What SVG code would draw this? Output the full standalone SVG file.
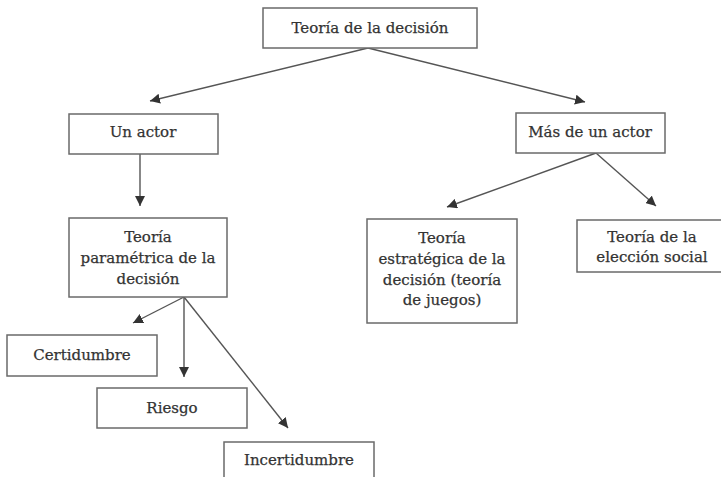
<svg xmlns="http://www.w3.org/2000/svg" width="721" height="477" viewBox="0 0 721 477">
<style>
.box{fill:#fff;stroke:#6a6a6a;stroke-width:1.5}
.t{font-family:"DejaVu Serif","Liberation Serif",serif;font-size:15px;fill:#333;stroke:#333;stroke-width:0.25;text-anchor:middle}
.c{fill:none;stroke:#555;stroke-width:1.4}
</style>
<defs>
<marker id="ah" markerUnits="userSpaceOnUse" markerWidth="12" markerHeight="10" refX="10" refY="5" orient="auto">
<path d="M0,0 L10,5 L0,10 Z" fill="#333"/>
</marker>
</defs>
<rect width="721" height="477" fill="#fff"/>
<g id="connectors">
<line class="c" x1="368" y1="48" x2="150" y2="101" marker-end="url(#ah)"/>
<line class="c" x1="368" y1="48" x2="585" y2="102" marker-end="url(#ah)"/>
<line class="c" x1="140" y1="154" x2="140" y2="206" marker-end="url(#ah)"/>
<line class="c" x1="184" y1="297" x2="133" y2="323" marker-end="url(#ah)"/>
<line class="c" x1="184" y1="297" x2="184" y2="377" marker-end="url(#ah)"/>
<line class="c" x1="184" y1="297" x2="288" y2="428" marker-end="url(#ah)"/>
<line class="c" x1="596" y1="153" x2="447" y2="207" marker-end="url(#ah)"/>
<line class="c" x1="596" y1="153" x2="656" y2="206" marker-end="url(#ah)"/>
</g>
<g id="n-root"><rect class="box" x="263" y="8" width="214" height="40"/><text class="t" x="370" y="33">Teoría de la decisión</text></g>
<g id="n-un-actor"><rect class="box" x="69" y="114" width="149" height="40"/><text class="t" x="143" y="137">Un actor</text></g>
<g id="n-mas-actor"><rect class="box" x="516" y="113" width="149" height="40"/><text class="t" x="590" y="137">Más de un actor</text></g>
<g id="n-parametrica"><rect class="box" x="69" y="218" width="158" height="79"/><text class="t" x="148" y="242">Teoría</text><text class="t" x="148" y="263">paramétrica de la</text><text class="t" x="148" y="284">decisión</text></g>
<g id="n-estrategica"><rect class="box" x="367" y="219" width="150" height="104"/><text class="t" x="442" y="243">Teoría</text><text class="t" x="442" y="264">estratégica de la</text><text class="t" x="442" y="285">decisión (teoría</text><text class="t" x="442" y="305">de juegos)</text></g>
<g id="n-eleccion"><rect class="box" x="577" y="220" width="150" height="52"/><text class="t" x="652" y="242">Teoría de la</text><text class="t" x="652" y="262">elección social</text></g>
<g id="n-certidumbre"><rect class="box" x="7" y="335" width="150" height="41"/><text class="t" x="82" y="360">Certidumbre</text></g>
<g id="n-riesgo"><rect class="box" x="97" y="388" width="150" height="40"/><text class="t" x="172" y="413">Riesgo</text></g>
<g id="n-incertidumbre"><rect class="box" x="224" y="442" width="150" height="45"/><text class="t" x="299" y="465">Incertidumbre</text></g>
</svg>
